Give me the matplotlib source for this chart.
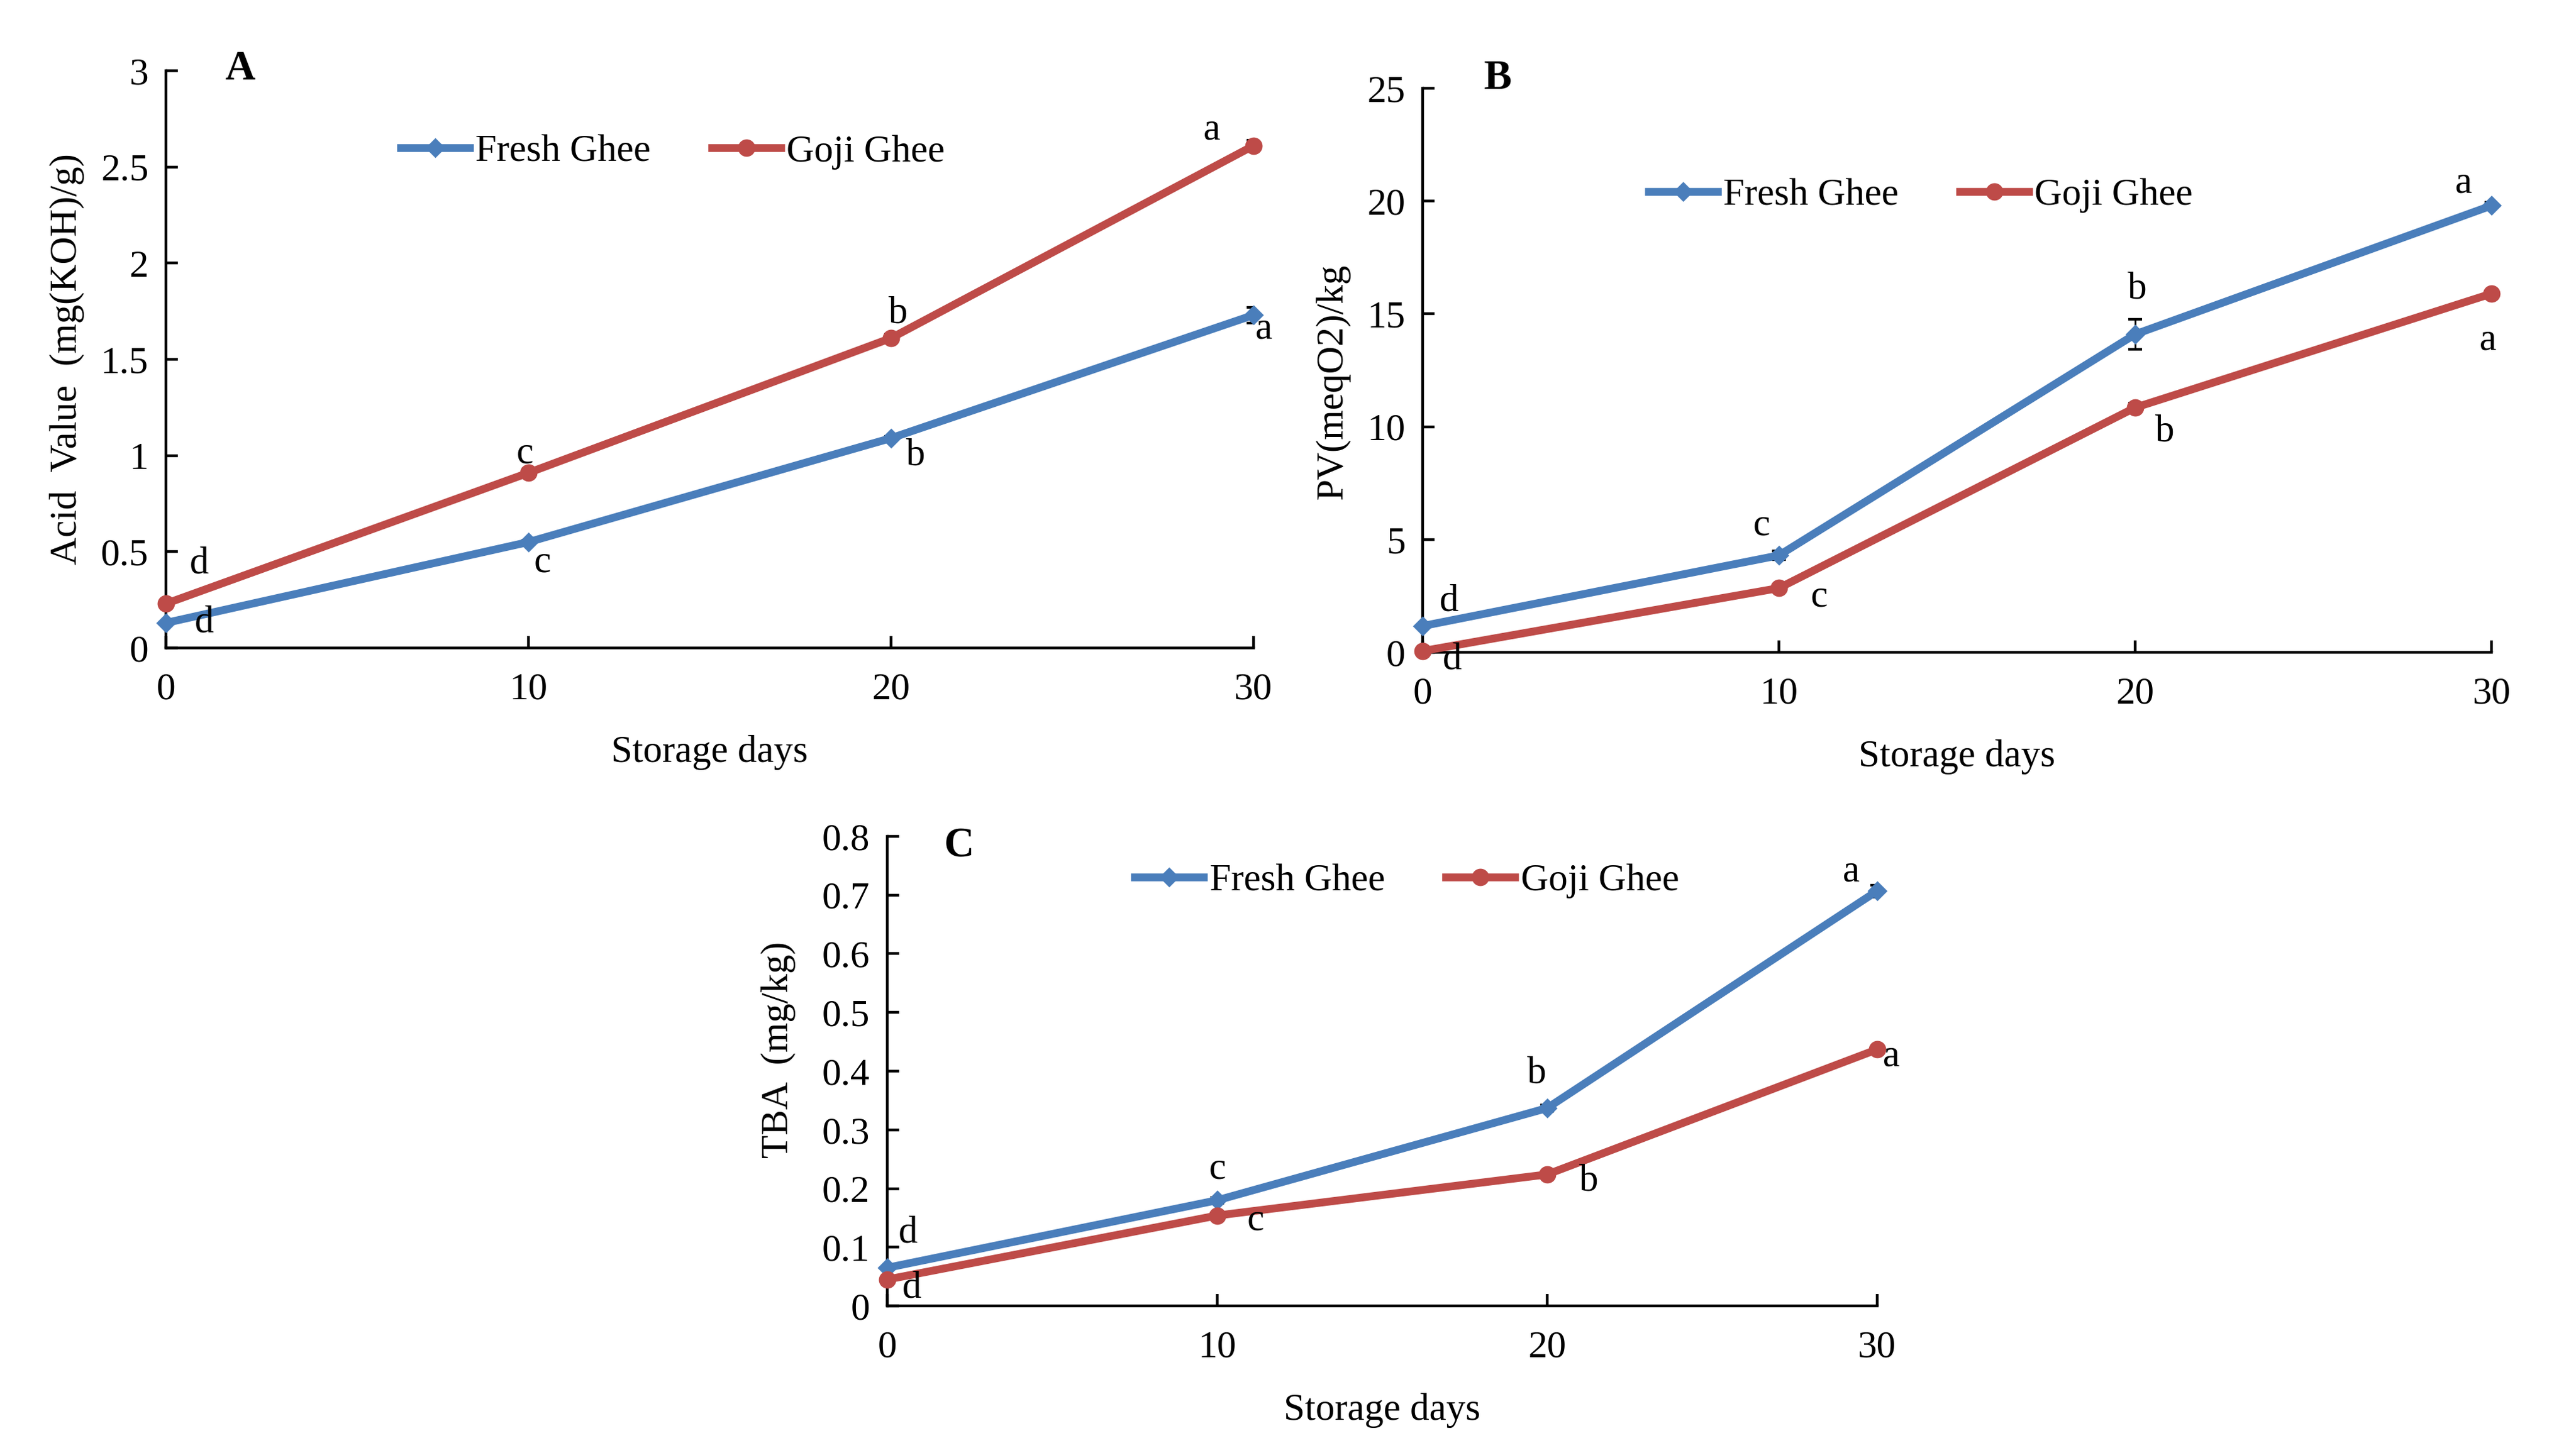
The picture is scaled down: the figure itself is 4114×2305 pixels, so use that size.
import matplotlib.pyplot as plt

plt.rcParams["font.family"] = ["Liberation Serif", "DejaVu Serif"]

days = [0, 10, 20, 30]
series_names = ["Fresh Ghee", "Goji Ghee"]

# Panel A: acid value
acid_fresh = [0.13, 0.55, 1.09, 1.73]
acid_goji = [0.23, 0.91, 1.61, 2.61]
acid_fresh_err = [0.01, 0.01, 0.01, 0.04]
acid_goji_err = [0.01, 0.02, 0.02, 0.03]
acid_fresh_letters = ["d", "c", "b", "a"]
acid_goji_letters = ["d", "c", "b", "a"]

# Panel B: peroxide value
pv_fresh = [1.17, 4.3, 14.1, 19.8]
pv_goji = [0.06, 2.85, 10.85, 15.9]
pv_fresh_err = [0.05, 0.2, 0.67, 0.15]
pv_goji_err = [0.02, 0.15, 0.2, 0.1]
pv_fresh_letters = ["d", "c", "b", "a"]
pv_goji_letters = ["d", "c", "b", "a"]

# Panel C: TBA
tba_fresh = [0.065, 0.18, 0.337, 0.707]
tba_goji = [0.045, 0.154, 0.224, 0.437]
tba_fresh_err = [0.003, 0.005, 0.005, 0.01]
tba_goji_err = [0.003, 0.004, 0.004, 0.005]
tba_fresh_letters = ["d", "c", "b", "a"]
tba_goji_letters = ["d", "c", "b", "a"]

BLUE = "#4A7EBB"
RED = "#BE4B48"
FS = 22


def draw_panel(ax, fresh, goji, fresh_err, goji_err, f_letters, g_letters,
               f_offsets, g_offsets, ylim, yticks, ylabel, label_xy,
               panel, panel_xy, legend_xy):
    ax.errorbar(days, fresh, yerr=fresh_err, fmt="none", ecolor="black",
                elinewidth=1.0, capsize=4, capthick=1.5, zorder=2)
    ax.errorbar(days, goji, yerr=goji_err, fmt="none", ecolor="black",
                elinewidth=1.0, capsize=4, capthick=1.5, zorder=2)
    ax.plot(days, fresh, color=BLUE, lw=4.5, marker="D", markersize=7,
            label=series_names[0], zorder=3, clip_on=False)
    ax.plot(days, goji, color=RED, lw=4.5, marker="o", markersize=9,
            label=series_names[1], zorder=3, clip_on=False)

    for x, y, t, off in zip(days, fresh, f_letters, f_offsets):
        ax.annotate(t, (x, y), xytext=off, textcoords="offset points",
                    ha="center", va="center", fontsize=FS)
    for x, y, t, off in zip(days, goji, g_letters, g_offsets):
        ax.annotate(t, (x, y), xytext=off, textcoords="offset points",
                    ha="center", va="center", fontsize=FS)

    ax.set_xlim(0, 30)
    ax.set_ylim(*ylim)
    ax.set_xticks(days)
    ax.set_yticks(yticks)
    ax.set_yticklabels([f"{v:g}" for v in yticks])
    for s in ["top", "right"]:
        ax.spines[s].set_visible(False)
    for s in ["left", "bottom"]:
        ax.spines[s].set_linewidth(1.6)
    ax.tick_params(axis="both", direction="in", length=7, width=1.6,
                   labelsize=FS)
    ax.tick_params(axis="x", pad=14)
    ax.tick_params(axis="y", pad=10)

    ax.set_xlabel("Storage days", fontsize=FS, labelpad=16)
    ax.set_ylabel(ylabel, fontsize=FS)
    ax.yaxis.set_label_coords(*label_xy)

    ax.text(panel_xy[0], panel_xy[1], panel, transform=ax.transAxes,
            fontsize=24, fontweight="bold", ha="center", va="center")

    ax.legend(loc="center", bbox_to_anchor=legend_xy, ncol=2, frameon=False,
              fontsize=FS, handlelength=1.8, handletextpad=0.15,
              columnspacing=1.6)


fig = plt.figure(figsize=(20.57, 11.525), dpi=200)
ax_a = fig.add_axes([0.0644, 0.5510, 0.4222, 0.4000])
ax_b = fig.add_axes([0.5523, 0.5479, 0.4149, 0.3909])
ax_c = fig.add_axes([0.3444, 0.0950, 0.3843, 0.3254])

draw_panel(ax_a, acid_fresh, acid_goji, acid_fresh_err, acid_goji_err,
           acid_fresh_letters, acid_goji_letters,
           [(22, 0), (8, -12), (14, -10), (6, -8)],
           [(19, 23), (-2, 11), (4, 14), (-24, 9)],
           (0, 3), [0, 0.5, 1, 1.5, 2, 2.5, 3],
           "Acid  Value  (mg(KOH)/g)", (-0.075, 0.5),
           "A", (0.068, 1.003), (0.466, 0.859))

draw_panel(ax_b, pv_fresh, pv_goji, pv_fresh_err, pv_goji_err,
           pv_fresh_letters, pv_goji_letters,
           [(15, 14), (-10, 17), (1, 26), (-16, 13)],
           [(17, -5), (23, -5), (17, -14), (-2, -27)],
           (0, 25), [0, 5, 10, 15, 20, 25],
           "PV(meqO2)/kg", (-0.068, 0.48),
           "B", (0.070, 1.017), (0.466, 0.81))

draw_panel(ax_c, tba_fresh, tba_goji, tba_fresh_err, tba_goji_err,
           tba_fresh_letters, tba_goji_letters,
           [(12, 20), (0, 18), (-6, 20), (-15, 11)],
           [(14, -5), (22, -3), (24, -4), (8, -4)],
           (0, 0.8), [0, 0.1, 0.2, 0.3, 0.4, 0.5, 0.6, 0.7, 0.8],
           "TBA  (mg/kg)", (-0.092, 0.545),
           "C", (0.073, 0.979), (0.525, 0.905))

fig.savefig("out.png", dpi=200)
